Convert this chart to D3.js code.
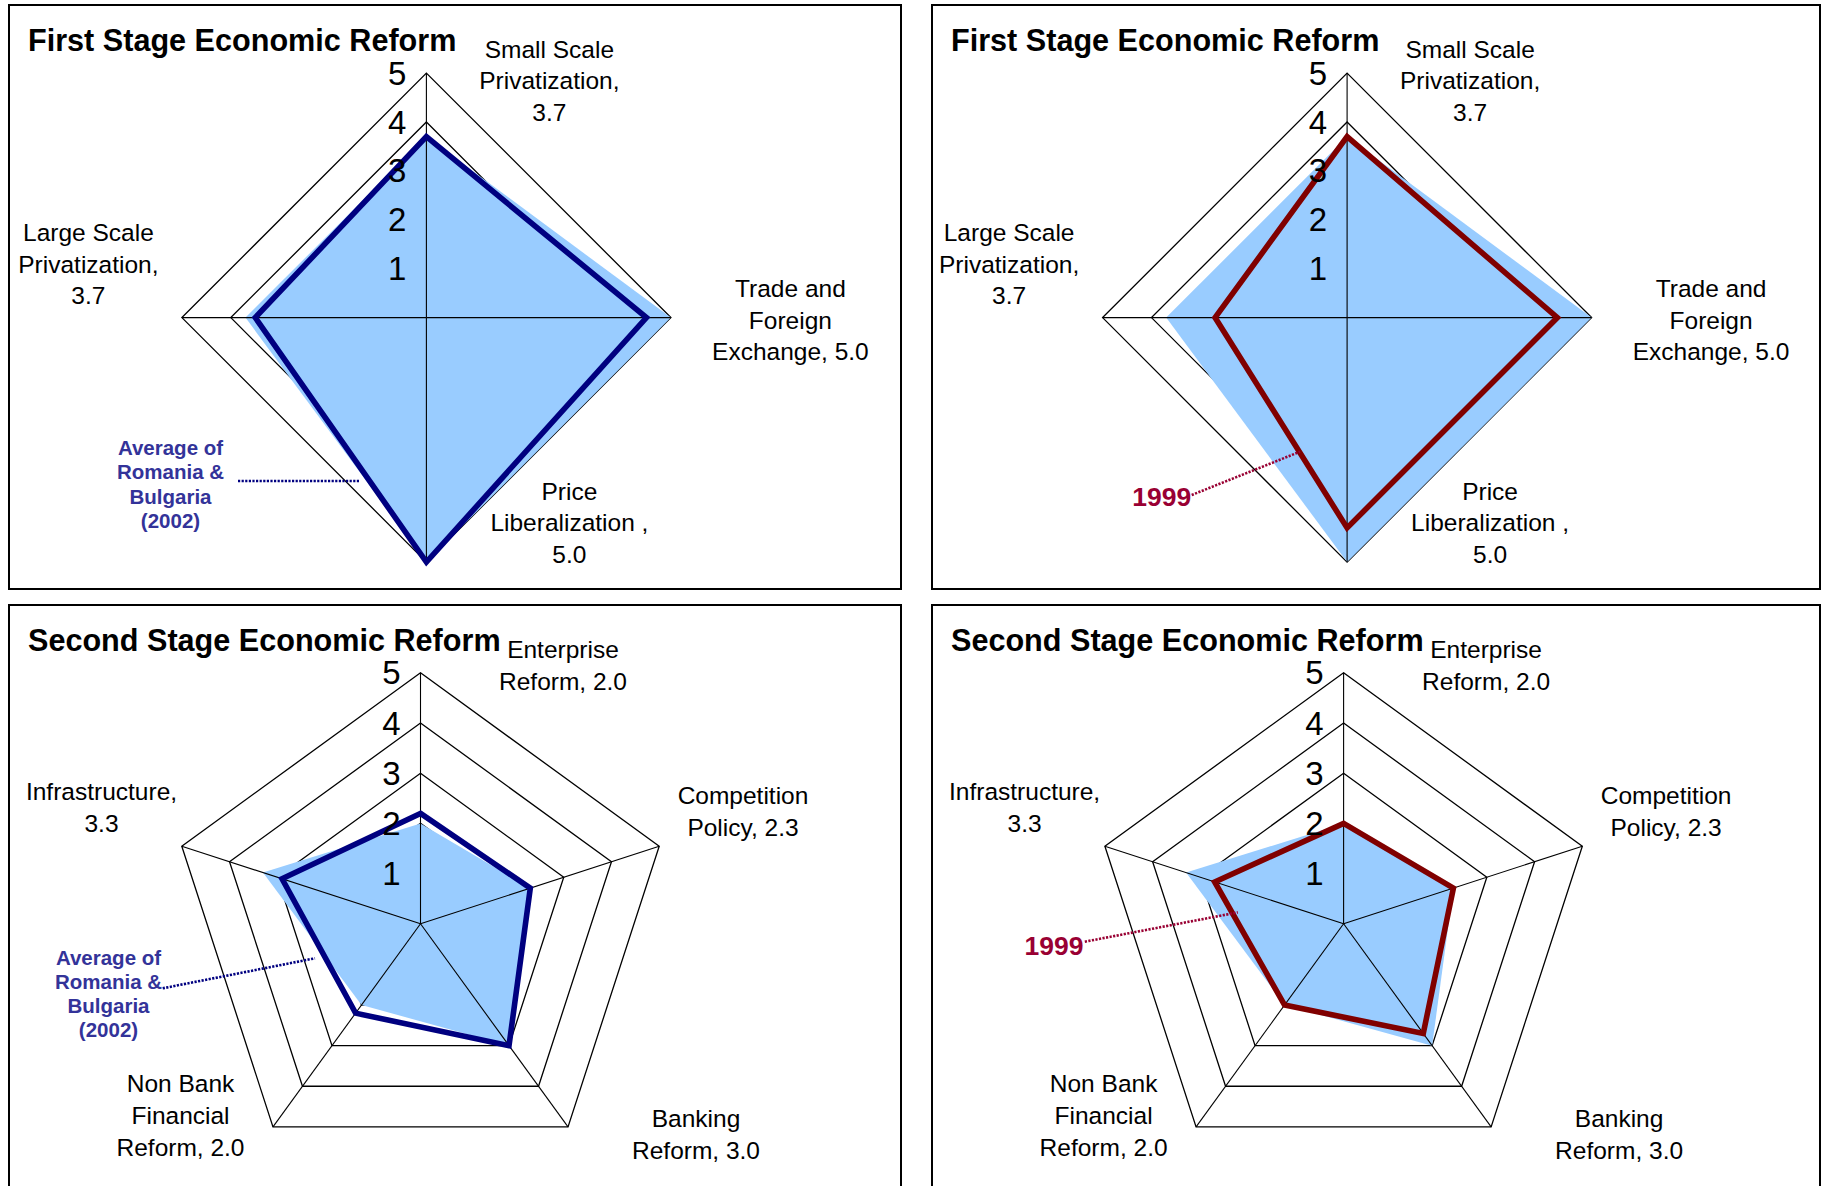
<!DOCTYPE html>
<html><head><meta charset="utf-8">
<script src="https://cdn.jsdelivr.net/npm/d3@7"></script>
<style>html,body{margin:0;padding:0;background:#fff;} svg{display:block;}</style>
</head><body>
<svg id="chart" width="1824" height="1186"></svg>
<script>
// ---------------- DATA ----------------
const stageTitles = ["First Stage Economic Reform", "Second Stage Economic Reform"];
const firstAxes = ["Small Scale Privatization", "Trade and Foreign Exchange", "Price Liberalization", "Large Scale Privatization"];
const firstAxisLabels = [["Small Scale", "Privatization,", "3.7"], ["Trade and", "Foreign", "Exchange, 5.0"], ["Price", "Liberalization ,", "5.0"], ["Large Scale", "Privatization,", "3.7"]];
const secondAxes = ["Enterprise Reform", "Competition Policy", "Banking Reform", "Non Bank Financial Reform", "Infrastructure"];
const secondAxisLabels = [["Enterprise", "Reform, 2.0"], ["Competition", "Policy, 2.3"], ["Banking", "Reform, 3.0"], ["Non Bank", "Financial", "Reform, 2.0"], ["Infrastructure,", "3.3"]];
const firstCountry2002 = [3.7, 5.0, 5.0, 3.7];
const firstAverage2002 = [3.7, 4.5, 5.0, 3.5];
const first1999 = [3.7, 4.3, 4.3, 2.7];
const secondCountry2002 = [2.0, 2.3, 3.0, 2.0, 3.3];
const secondAverage2002 = [2.2, 2.3, 3.0, 2.2, 2.9];
const second1999 = [2.0, 2.3, 2.7, 2.0, 2.7];
const radialTicks = [1, 2, 3, 4, 5];
const averageLabel = ["Average of", "Romania &", "Bulgaria", "(2002)"];
const yearLabel = ["1999"];

// ---------------- LAYOUT ----------------
const FONT = "'Liberation Sans', Arial, Helvetica, sans-serif";
const stages = [
  { axes: firstAxes, labels: firstAxisLabels, base: firstCountry2002, avg: firstAverage2002, y1999: first1999,
    labelPos: [[123, -260], [364, -20.6], [143, 182], [-338, -76.6]], spacing: 31.6 },
  { axes: secondAxes, labels: secondAxisLabels, base: secondCountry2002, avg: secondAverage2002, y1999: second1999,
    labelPos: [[142.5, -266.3], [322.5, -120], [275.5, 203.5], [-240, 168], [-319, -124]], spacing: 32.2 }
];
const panels = [
  { box: [9, 5, 892, 584], cx: 426.4, cy: 317.6, R: 244.5, stage: 0, overlay: "avg",
    note: { x: 170.5, y: 455, lead: [[238, 481], [360, 481]] } },
  { box: [932, 5, 888, 584], cx: 1347.1, cy: 317.6, R: 244.5, stage: 0, overlay: "1999",
    note: { x: 1161.7, y: 505.7, lead: [[1191.7, 495], [1300, 451.7]] } },
  { box: [9, 605, 892, 700], cx: 420.5, cy: 923.8, R: 251, stage: 1, overlay: "avg",
    note: { x: 108.5, y: 964.5, lead: [[162.7, 988.3], [315, 958.3]] } },
  { box: [932, 605, 888, 700], cx: 1343.6, cy: 923.8, R: 251, stage: 1, overlay: "1999",
    note: { x: 1054, y: 955, lead: [[1084.8, 941.7], [1237.8, 912.4]] } }
];

// ---------------- DRAW ----------------
const svg = d3.select("#chart");
svg.append("rect").attr("width", 1824).attr("height", 1186).attr("fill", "#fff");

panels.forEach(p => {
  const st = stages[p.stage];
  const n = st.axes.length;
  const step = 2 * Math.PI / n;
  const r = d3.scaleLinear().domain([0, 5]).range([0, p.R]);
  const radial = d3.lineRadial().angle((d, i) => i * step).radius(d => r(d)).curve(d3.curveLinearClosed);

  const g = svg.append("g");
  // border
  g.append("rect").attr("x", p.box[0]).attr("y", p.box[1]).attr("width", p.box[2]).attr("height", p.box[3])
    .attr("fill", "#fff").attr("stroke", "#000").attr("stroke-width", 2);
  // title
  g.append("text").attr("x", p.box[0] + 19).attr("y", p.box[1] + 46)
    .attr("font-family", FONT).attr("font-weight", "bold").attr("font-size", 30.6).attr("fill", "#000")
    .text(stageTitles[p.stage]);

  const c = g.append("g").attr("transform", `translate(${p.cx},${p.cy})`);
  // rings
  c.selectAll("path.ring").data(radialTicks).join("path").attr("class", "ring")
    .attr("d", t => radial(d3.range(n).map(() => t)))
    .attr("fill", "none").attr("stroke", "#000").attr("stroke-width", 1.3);
  // filled base series
  c.append("path").attr("d", radial(st.base)).attr("fill", "#99CCFF").attr("stroke", "none");
  // spokes
  c.selectAll("line.spoke").data(st.axes).join("line").attr("class", "spoke")
    .attr("x1", 0).attr("y1", 0)
    .attr("x2", (d, i) => r(5) * Math.sin(i * step))
    .attr("y2", (d, i) => -r(5) * Math.cos(i * step))
    .attr("stroke", "#000").attr("stroke-width", 1.1);
  // overlay line series
  const isAvg = p.overlay === "avg";
  const vals = isAvg ? st.avg : st.y1999;
  const lineColor = isAvg ? "#000080" : "#800000";
  c.append("path").attr("d", radial(vals)).attr("fill", "none")
    .attr("stroke", lineColor).attr("stroke-width", 5.6).attr("stroke-linejoin", "miter");
  // tick labels
  c.selectAll("text.tick").data(radialTicks).join("text").attr("class", "tick")
    .attr("x", -20).attr("y", t => -r(t) + 11.5)
    .attr("text-anchor", "end").attr("font-family", FONT).attr("font-size", 33).attr("fill", "#000")
    .text(t => t);
  // axis labels
  st.labels.forEach((lines, i) => {
    const t = c.append("text").attr("font-family", FONT).attr("font-size", 24.5).attr("fill", "#000")
      .attr("text-anchor", "middle");
    lines.forEach((ln, k) => {
      t.append("tspan").attr("x", st.labelPos[i][0]).attr("y", st.labelPos[i][1] + k * st.spacing).text(ln);
    });
  });

  // callout
  const noteColor = isAvg ? "#333399" : "#990033";
  const leadColor = isAvg ? "#000080" : "#990033";
  g.append("line").attr("x1", p.note.lead[0][0]).attr("y1", p.note.lead[0][1])
    .attr("x2", p.note.lead[1][0]).attr("y2", p.note.lead[1][1])
    .attr("stroke", leadColor).attr("stroke-width", 2.6).attr("stroke-dasharray", "2.2,1.4");
  const lines = isAvg ? averageLabel : yearLabel;
  const nt = g.append("text").attr("font-family", FONT).attr("font-weight", "bold")
    .attr("font-size", isAvg ? 20.5 : 26.5).attr("fill", noteColor).attr("text-anchor", "middle");
  lines.forEach((ln, k) => {
    nt.append("tspan").attr("x", p.note.x).attr("y", p.note.y + k * 24.3).text(ln);
  });
});
</script>
</body></html>
